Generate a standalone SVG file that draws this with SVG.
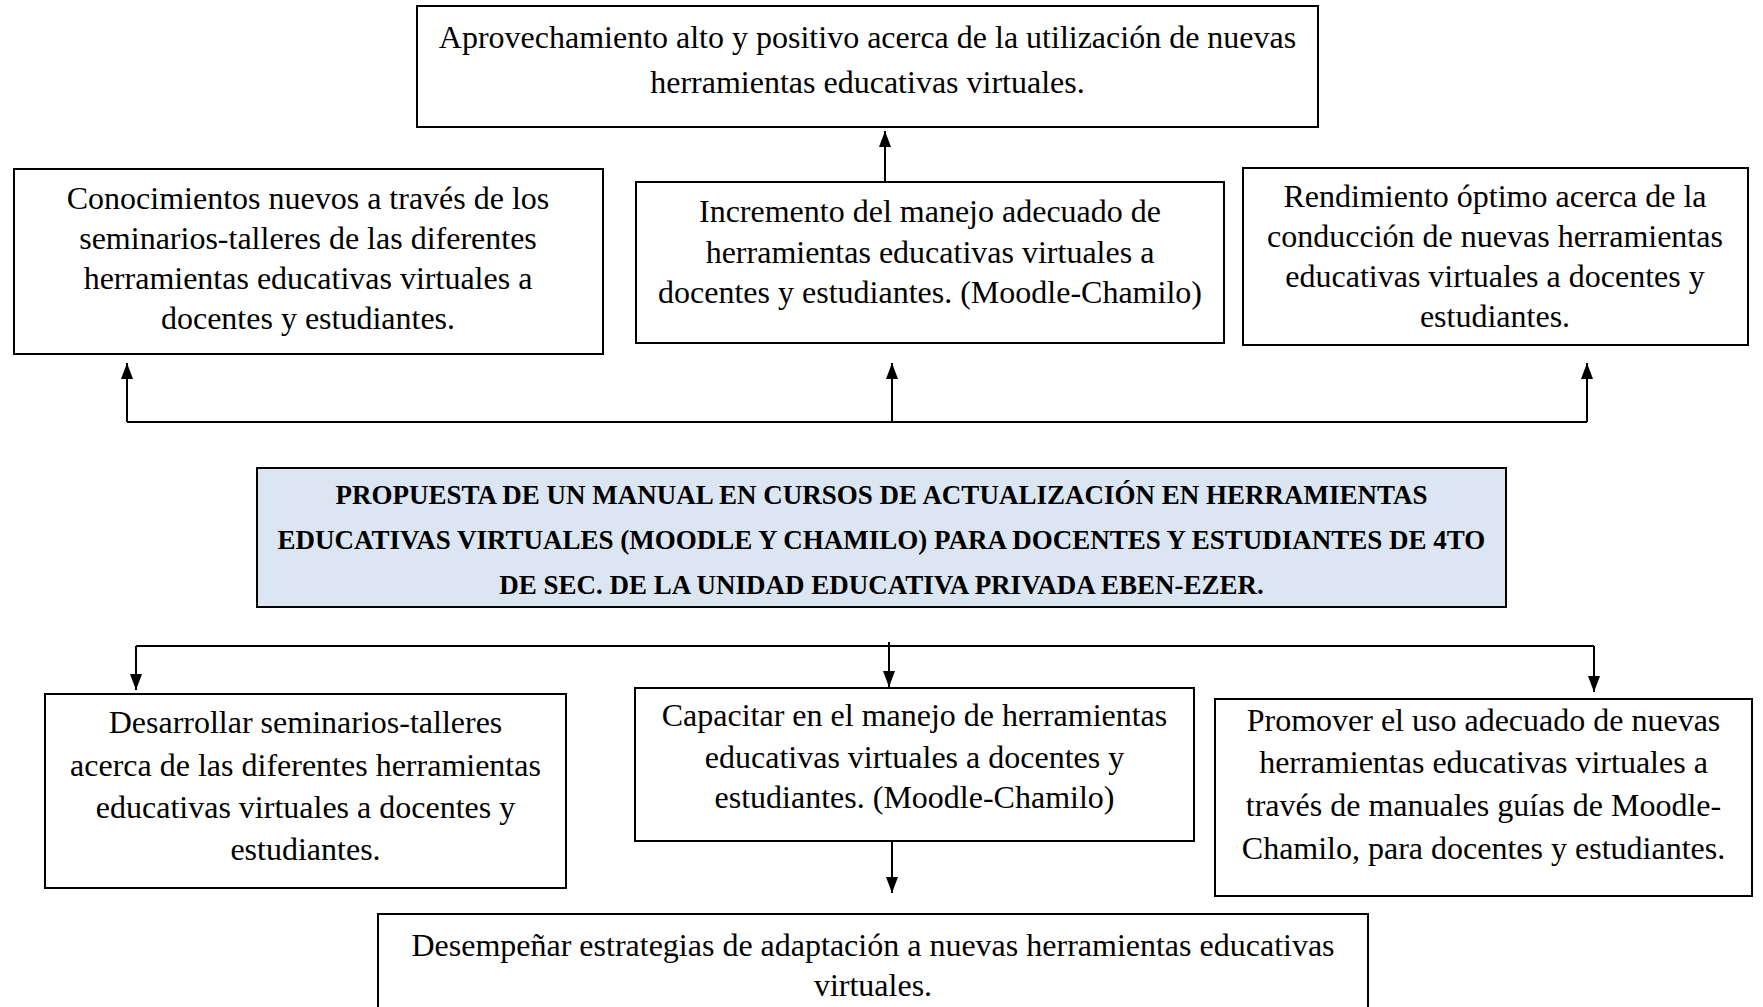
<svg xmlns="http://www.w3.org/2000/svg" width="1763" height="1007" viewBox="0 0 1763 1007">
<style>
.box{fill:#fff;stroke:#000;stroke-width:2}
.main{fill:#dce6f2;stroke:#000;stroke-width:2}
.t{font-family:"Liberation Serif","Times New Roman",serif;font-size:32px;text-anchor:middle;fill:#000}
.b{font-family:"Liberation Serif","Times New Roman",serif;font-size:27px;font-weight:bold;text-anchor:middle;fill:#000}
.ln{stroke:#000;stroke-width:2;fill:none}
</style>
<defs>
<marker id="ah" viewBox="0 0 16 12" refX="16" refY="6" markerWidth="16" markerHeight="12" markerUnits="userSpaceOnUse" orient="auto"><path d="M0,0 L16,6 L0,12 Z" fill="#000"/></marker>
</defs>
<g id="connectors">
<line class="ln" x1="885" y1="182" x2="885" y2="131" marker-end="url(#ah)"/>
<line class="ln" x1="127" y1="422" x2="1587" y2="422"/>
<line class="ln" x1="127" y1="422" x2="127" y2="363" marker-end="url(#ah)"/>
<line class="ln" x1="892" y1="422" x2="892" y2="363" marker-end="url(#ah)"/>
<line class="ln" x1="1587" y1="422" x2="1587" y2="363" marker-end="url(#ah)"/>
<line class="ln" x1="136" y1="646" x2="1594" y2="646"/>
<line class="ln" x1="136" y1="646" x2="136" y2="690" marker-end="url(#ah)"/>
<line class="ln" x1="889" y1="642" x2="889" y2="687" marker-end="url(#ah)"/>
<line class="ln" x1="1594" y1="646" x2="1594" y2="692" marker-end="url(#ah)"/>
<line class="ln" x1="892" y1="841" x2="892" y2="893" marker-end="url(#ah)"/>
</g>
<g id="top">
<rect class="box" x="417" y="6" width="901" height="121"/>
<text class="t" x="867.5" y="48">Aprovechamiento alto y positivo acerca de la utilización de nuevas</text>
<text class="t" x="867.5" y="93">herramientas educativas virtuales.</text>
</g>
<g id="r2left">
<rect class="box" x="14" y="169" width="589" height="185"/>
<text class="t" x="308" y="209">Conocimientos nuevos a través de los</text>
<text class="t" x="308" y="249">seminarios-talleres de las diferentes</text>
<text class="t" x="308" y="289">herramientas educativas virtuales a</text>
<text class="t" x="308" y="329">docentes y estudiantes.</text>
</g>
<g id="r2mid">
<rect class="box" x="636" y="182" width="588" height="161"/>
<text class="t" x="930" y="222">Incremento del manejo adecuado de</text>
<text class="t" x="930" y="263">herramientas educativas virtuales a</text>
<text class="t" x="930" y="303">docentes y estudiantes. (Moodle-Chamilo)</text>
</g>
<g id="r2right">
<rect class="box" x="1243" y="168" width="505" height="177"/>
<text class="t" x="1495" y="207">Rendimiento óptimo acerca de la</text>
<text class="t" x="1495" y="247">conducción de nuevas herramientas</text>
<text class="t" x="1495" y="287">educativas virtuales a docentes y</text>
<text class="t" x="1495" y="327">estudiantes.</text>
</g>
<g id="main">
<rect class="main" x="257" y="468" width="1249" height="139"/>
<text class="b" x="881.5" y="504">PROPUESTA DE UN MANUAL EN CURSOS DE ACTUALIZACIÓN EN HERRAMIENTAS</text>
<text class="b" x="881.5" y="549">EDUCATIVAS VIRTUALES (MOODLE Y CHAMILO) PARA DOCENTES Y ESTUDIANTES DE 4TO</text>
<text class="b" x="881.5" y="594">DE SEC. DE LA UNIDAD EDUCATIVA PRIVADA EBEN-EZER.</text>
</g>
<g id="bleft">
<rect class="box" x="45" y="694" width="521" height="194"/>
<text class="t" x="305.5" y="733">Desarrollar seminarios-talleres</text>
<text class="t" x="305.5" y="776">acerca de las diferentes herramientas</text>
<text class="t" x="305.5" y="818">educativas virtuales a docentes y</text>
<text class="t" x="305.5" y="860">estudiantes.</text>
</g>
<g id="bmid">
<rect class="box" x="635" y="688" width="559" height="153"/>
<text class="t" x="914.5" y="726">Capacitar en el manejo de herramientas</text>
<text class="t" x="914.5" y="768">educativas virtuales a docentes y</text>
<text class="t" x="914.5" y="808">estudiantes. (Moodle-Chamilo)</text>
</g>
<g id="bright">
<rect class="box" x="1215" y="699" width="537" height="197"/>
<text class="t" x="1483.5" y="731">Promover el uso adecuado de nuevas</text>
<text class="t" x="1483.5" y="773">herramientas educativas virtuales a</text>
<text class="t" x="1483.5" y="816">través de manuales guías de Moodle-</text>
<text class="t" x="1483.5" y="859">Chamilo, para docentes y estudiantes.</text>
</g>
<g id="bottom">
<rect class="box" x="378" y="914" width="990" height="100"/>
<text class="t" x="873" y="956">Desempeñar estrategias de adaptación a nuevas herramientas educativas</text>
<text class="t" x="873" y="996">virtuales.</text>
</g>
</svg>
